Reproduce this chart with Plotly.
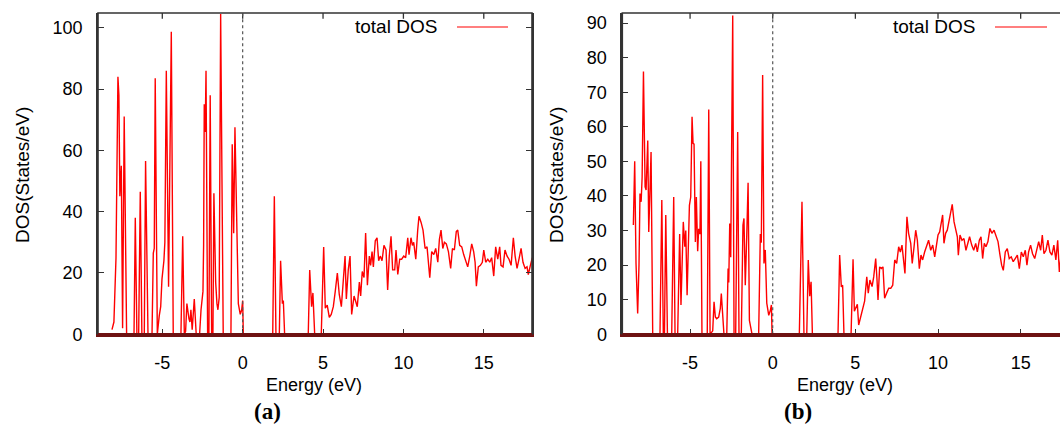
import plotly.graph_objects as go

# ---------------- data ----------------
energy_a = [-8.13, -8.01, -7.88, -7.76, -7.70, -7.64, -7.55, -7.47, -7.37, -7.22,
            -6.76, -6.68, -6.58, -6.47, -6.37, -6.27, -6.12, -6.04, -5.89, -5.64,
            -5.56, -5.50, -5.44, -5.31, -5.19, -5.10, -5.02, -4.90, -4.84, -4.75,
            -4.61, -4.44, -4.32, -3.84, -3.73, -3.63, -3.55, -3.47, -3.34, -3.28,
            -3.22, -3.14, -3.01, -2.89, -2.68, -2.59, -2.47, -2.43, -2.39, -2.33,
            -2.28, -2.18, -2.10, -2.02, -1.93, -1.85, -1.79, -1.72, -1.68, -1.60,
            -1.54, -1.46, -1.37, -1.21, -0.73, -0.65, -0.56, -0.48, -0.35, -0.27,
            -0.15, -0.06, 0.00, 0.04, 1.87, 1.97, 2.07, 2.28, 2.36, 2.47,
            2.53, 2.61, 4.08, 4.17, 4.29, 4.37, 4.48, 4.89, 5.04, 5.14,
            5.26, 5.39, 5.51, 5.64, 5.76, 5.89, 6.01, 6.14, 6.26, 6.37,
            6.45, 6.57, 6.68, 6.78, 6.93, 7.05, 7.13, 7.26, 7.34, 7.44,
            7.55, 7.65, 7.76, 7.88, 7.96, 8.05, 8.13, 8.25, 8.36, 8.46,
            8.56, 8.67, 8.79, 8.92, 9.02, 9.12, 9.23, 9.33, 9.46, 9.54,
            9.65, 9.77, 9.89, 10.02, 10.14, 10.27, 10.35, 10.47, 10.56, 10.64,
            10.77, 10.89, 10.97, 11.10, 11.22, 11.35, 11.47, 11.64, 11.76, 11.89,
            12.01, 12.14, 12.24, 12.34, 12.45, 12.55, 12.67, 12.80, 12.94, 13.05,
            13.17, 13.29, 13.38, 13.50, 13.63, 13.75, 13.88, 14.00, 14.13, 14.25,
            14.37, 14.46, 14.54, 14.66, 14.79, 14.91, 15.00, 15.12, 15.25, 15.37,
            15.49, 15.62, 15.74, 15.87, 15.99, 16.07, 16.20, 16.32, 16.45, 16.57,
            16.70, 16.84, 16.95, 17.07, 17.19, 17.32, 17.44, 17.57, 17.69, 17.77,
            17.90, 18.02]
dos_a = [1.5, 4, 25, 84, 78, 45, 55, 2, 71, 0,
         0, 38, 0, 0, 46.5, 0, 0, 56.5, 0, 0,
         26.5, 28, 83.5, 0, 6, 9, 18, 24, 30, 86,
         15.5, 98.7, 0, 0, 32, 0, 1, 10, 5, 4,
         8, 1.5, 11.5, 0, 0, 8, 14, 29, 75, 66,
         86, 0, 0, 78, 0, 0, 46, 30, 17, 10,
         8, 12, 104.5, 0, 0, 62, 33, 67.5, 24, 10,
         6.5, 8, 11, 0, 0, 45, 0, 0, 24, 10,
         11, 0, 0, 21, 9, 13.5, 0, 0, 28.5, 8.5,
         9.5, 5.5, 6.5, 9, 14, 20, 13, 9, 17.5, 25.5,
         11.5, 21, 25.5, 6.5, 12.5, 10.5, 9, 17, 12.5, 20.5,
         18.5, 33, 16, 25.5, 22.5, 27, 22, 30.5, 31.5, 24,
         25.5, 24, 29, 27.5, 14.5, 25.5, 32, 21, 21, 27.5,
         19.5, 24.5, 24.5, 25.5, 25, 31.5, 26, 31.5, 29, 30,
         24.5, 34, 38.5, 36.5, 34, 28, 28.5, 18.5, 27, 26,
         28, 23.5, 31, 34, 28, 30, 29.5, 27, 21.5, 28,
         27.5, 33.5, 34, 29, 28.5, 26, 23.5, 22, 25.5, 29.5,
         27, 23.5, 15.7, 22, 22.5, 23.5, 27.5, 23.5, 24.5, 23.5,
         25, 19, 28.5, 24.5, 28.5, 22.5, 22, 27.5, 25.5, 24.5,
         22.5, 31.5, 25.5, 21.5, 24.5, 28, 23.5, 21.5, 22, 19.5,
         22.5, 25]

energy_b = [-8.43, -8.35, -8.27, -8.17, -8.09, -8.03, -7.96, -7.90, -7.82, -7.72,
            -7.66, -7.56, -7.50, -7.42, -7.36, -7.26, -6.82, -6.71, -6.62, -6.55,
            -6.47, -6.37, -6.11, -5.99, -5.91, -5.75, -5.63, -5.55, -5.47, -5.41,
            -5.32, -5.26, -5.18, -5.10, -5.04, -4.96, -4.88, -4.82, -4.76, -4.68,
            -4.62, -4.54, -4.48, -4.40, -4.35, -4.28, -3.96, -3.87, -3.79, -3.63,
            -3.55, -3.47, -3.39, -3.27, -3.17, -3.11, -3.02, -2.95, -2.78, -2.70,
            -2.66, -2.60, -2.54, -2.42, -2.34, -2.24, -2.12, -2.04, -1.90, -1.80,
            -1.74, -1.66, -1.57, -1.49, -1.41, -1.33, -1.25, -0.85, -0.75, -0.69,
            -0.61, -0.53, -0.45, -0.36, -0.24, -0.14, -0.08, -0.04, 1.61, 1.77,
            1.89, 2.06, 2.15, 2.24, 2.32, 2.40, 3.95, 4.05, 4.15, 4.23,
            4.31, 4.74, 4.86, 4.94, 5.04, 5.12, 5.20, 5.32, 5.44, 5.56,
            5.69, 5.78, 5.88, 6.01, 6.11, 6.23, 6.31, 6.37, 6.47, 6.57,
            6.67, 6.77, 6.89, 7.02, 7.14, 7.26, 7.38, 7.50, 7.62, 7.72,
            7.82, 7.90, 8.00, 8.12, 8.22, 8.35, 8.44, 8.55, 8.65, 8.75,
            8.87, 8.97, 9.07, 9.19, 9.31, 9.43, 9.56, 9.68, 9.80, 9.90,
            10.00, 10.10, 10.20, 10.28, 10.36, 10.46, 10.56, 10.66, 10.76, 10.86,
            10.97, 11.07, 11.17, 11.23, 11.33, 11.45, 11.57, 11.69, 11.79, 11.91,
            12.04, 12.16, 12.28, 12.38, 12.50, 12.60, 12.70, 12.80, 12.90, 13.02,
            13.14, 13.26, 13.39, 13.51, 13.63, 13.75, 13.85, 13.95, 14.07, 14.19,
            14.31, 14.43, 14.55, 14.67, 14.80, 14.92, 15.04, 15.16, 15.28, 15.38,
            15.48, 15.60, 15.72, 15.85, 15.97, 16.09, 16.21, 16.31, 16.41, 16.53,
            16.65, 16.77, 16.89, 17.01, 17.13, 17.24, 17.34, 17.45]
dos_b = [31.6, 50, 20.5, 6, 20, 40.7, 38.3, 45.5, 76, 42.6,
         41.7, 56, 29.6, 41.7, 52.7, 0, 0, 38.8, 0, 0,
         34.5, 0, 0, 39.7, 0, 0, 29, 8.5, 28, 32.5,
         25.3, 30, 11.3, 31, 37.3, 39.7, 62.9, 55.2, 55, 26.7,
         39.7, 24, 30.5, 29, 50, 0, 0, 65, 0, 1,
         9.4, 5, 4.5, 5, 7.5, 11.8, 6.5, 0, 0, 19,
         15, 32, 22.3, 92.2, 0, 0, 58.5, 0, 0, 31.6,
         33.5, 14.2, 28.7, 43.8, 4, 2, 0, 0, 29, 26.5,
         75, 20.5, 24.4, 9, 5.5, 7, 8.5, 0, 0, 38.3,
         0, 0, 21.5, 11, 15.2, 0, 0, 22.9, 13.7, 14.2,
         0, 0, 21.7, 6.7, 7.7, 8.7, 2.7, 5.1, 7.7, 9.6,
         16.6, 11.9, 15.7, 13.8, 16.6, 21.9, 15.7, 9.9, 19.5, 19,
         19.5, 10.4, 11.9, 13.3, 13.3, 14.2, 21.5, 20.5, 25.3, 23.8,
         25.8, 21.5, 17.6, 34, 29.2, 26.3, 20.5, 25.3, 30.1, 27.2,
         19, 22.9, 21.5, 23.8, 25.3, 27.2, 24.3, 25.8, 22.4, 26.3,
         28.7, 29.6, 32.1, 34.5, 26.3, 29.2, 30.1, 33, 35.9, 37.6,
         32.5, 30.6, 28.2, 22.9, 28.7, 27.2, 27.7, 24.3, 25.8, 28.2,
         25.8, 24.3, 26.3, 23.8, 27.2, 28.2, 21.9, 26.3, 25.3, 26.8,
         30.6, 29.2, 30.1, 28.7, 26.8, 22.9, 20, 18.5, 23.8, 24.8,
         21.9, 22.4, 21, 21.9, 22.9, 19, 23.8, 22.4, 24.3, 20,
         23.8, 25.8, 23.3, 21.9, 24.3, 26.8, 24.3, 28.7, 23.3, 24.3,
         27.2, 23.8, 22.9, 25.8, 21.5, 27.2, 18, 23]

x_ticks = [-5, 0, 5, 10, 15]
x_tick_labels = ["-5", "0", "5", "10", "15"]
y_ticks_a = [0, 20, 40, 60, 80, 100]
y_ticks_b = [0, 10, 20, 30, 40, 50, 60, 70, 80, 90]
fermi_level = 0
series_name = "total DOS"
panel_labels = ["(a)", "(b)"]
x_title = "Energy (eV)"
y_title = "DOS(States/eV)"

# ---------------- figure ----------------
W, H = 1060, 428
FONT = "Liberation Sans, Arial, Helvetica, sans-serif"
RED = "#ff0000"
BASE = "#6e1212"
FRAME = "#333333"
FW = 1.6

fig = go.Figure()
fig.add_trace(go.Scatter(x=energy_a, y=dos_a, mode="lines", name=series_name,
                         line=dict(color=RED, width=1.4), xaxis="x", yaxis="y",
                         showlegend=False))
fig.add_trace(go.Scatter(x=energy_b, y=dos_b, mode="lines", name=series_name,
                         line=dict(color=RED, width=1.4), xaxis="x2", yaxis="y2",
                         showlegend=False))

ydom = [1 - 334.3 / H, 1 - 13 / H]
xr_a = [-9.0, 18.0]
xr_b = [-9.1, 17.38]
xdom_a = [98 / W, 532 / W]
xdom_b = [622.3 / W, 1.0]

common_x = dict(tickvals=x_ticks, ticktext=x_tick_labels, ticks="inside", ticklen=6,
                tickcolor=FRAME, tickwidth=1.3, showline=True, linecolor=BASE,
                linewidth=2.5, mirror=False, showgrid=False, zeroline=False,
                ticklabelstandoff=10, automargin=False,
                tickfont=dict(family=FONT, size=18, color="black"))
common_y = dict(ticks="inside", ticklen=6, tickcolor=FRAME, tickwidth=1.3,
                showline=True, linecolor=FRAME, linewidth=FW, showgrid=False,
                zeroline=False, ticklabelstandoff=10, automargin=False,
                tickfont=dict(family=FONT, size=18, color="black"))

fig.update_layout(
    width=W, height=H, margin=dict(l=0, r=0, t=0, b=0, autoexpand=False),
    paper_bgcolor="white", plot_bgcolor="white",
    xaxis=dict(domain=xdom_a, range=xr_a, anchor="y", **common_x),
    yaxis=dict(domain=ydom, range=[0, 104.8], tickvals=y_ticks_a, anchor="x",
               mirror="ticks", **common_y),
    xaxis2=dict(domain=xdom_b, range=xr_b, anchor="y2", **common_x),
    yaxis2=dict(domain=ydom, range=[0, 92.9], tickvals=y_ticks_b, anchor="x2",
                mirror=False, **common_y),
)

shapes = []
annotations = []
for xr, yr, xdom, xcen, lab_x, leg_text_r, leg_l, leg_r, plab, x_far in [
        ("x", "y", xdom_a, 314, 22, 439, 457, 508, panel_labels[0], xdom_a[1]),
        ("x2", "y2", xdom_b, 845, 556, 977, 995, 1047, panel_labels[1], 1.02)]:
    # frame: rectangle around the plotting area (paper coordinates)
    shapes.append(dict(type="rect", xref="paper", yref="paper",
                       x0=xdom[0], x1=x_far, y0=ydom[0], y1=ydom[1],
                       line=dict(color=FRAME, width=FW), fillcolor="rgba(0,0,0,0)",
                       layer="above"))
    # top tick marks (mirrored x ticks)
    for t in x_ticks:
        shapes.append(dict(type="line", xref=xr, yref=f"{yr} domain",
                           x0=t, x1=t, y0=1, y1=0.982,
                           line=dict(color=FRAME, width=1.3), layer="above"))
    # Fermi level dotted line
    shapes.append(dict(type="line", xref=xr, yref=f"{yr} domain",
                       x0=fermi_level, x1=fermi_level, y0=0, y1=1,
                       line=dict(color="#555555", width=1.2, dash="dot"), layer="above"))
    # legend sample
    shapes.append(dict(type="line", xref="paper", yref="paper",
                       x0=leg_l / W, x1=leg_r / W, y0=1 - 27 / H, y1=1 - 27 / H,
                       line=dict(color=RED, width=1.2)))
    annotations.append(dict(text=series_name, xref="paper", yref="paper",
                            x=leg_text_r / W, y=1 - 27 / H, xanchor="right",
                            yanchor="middle", showarrow=False,
                            font=dict(family=FONT, size=19, color="black")))
    annotations.append(dict(text=x_title, xref="paper", yref="paper",
                            x=xcen / W, y=1 - 385 / H, xanchor="center",
                            yanchor="middle", showarrow=False,
                            font=dict(family=FONT, size=18, color="black")))
    annotations.append(dict(text=y_title, xref="paper", yref="paper",
                            x=lab_x / W, y=1 - 175 / H, xanchor="center",
                            yanchor="middle", showarrow=False, textangle=-90,
                            font=dict(family=FONT, size=19, color="black")))
    annotations.append(dict(text=f"<b>{plab}</b>", xref="paper", yref="paper",
                            x=(xcen - 47) / W, y=1 - 411 / H, xanchor="center",
                            yanchor="middle", showarrow=False,
                            font=dict(family="Liberation Serif, Times New Roman, serif",
                                      size=23, color="black")))

# bottom baseline drawn over the frame in the dark red of the zero-valued curve
for xdom, x_far in [(xdom_a, xdom_a[1]), (xdom_b, 1.0)]:
    shapes.append(dict(type="line", xref="paper", yref="paper",
                       x0=xdom[0], x1=x_far, y0=ydom[0], y1=ydom[0],
                       line=dict(color=BASE, width=2.5), layer="above"))

fig.update_layout(shapes=shapes, annotations=annotations)
fig.write_html("out.html")
